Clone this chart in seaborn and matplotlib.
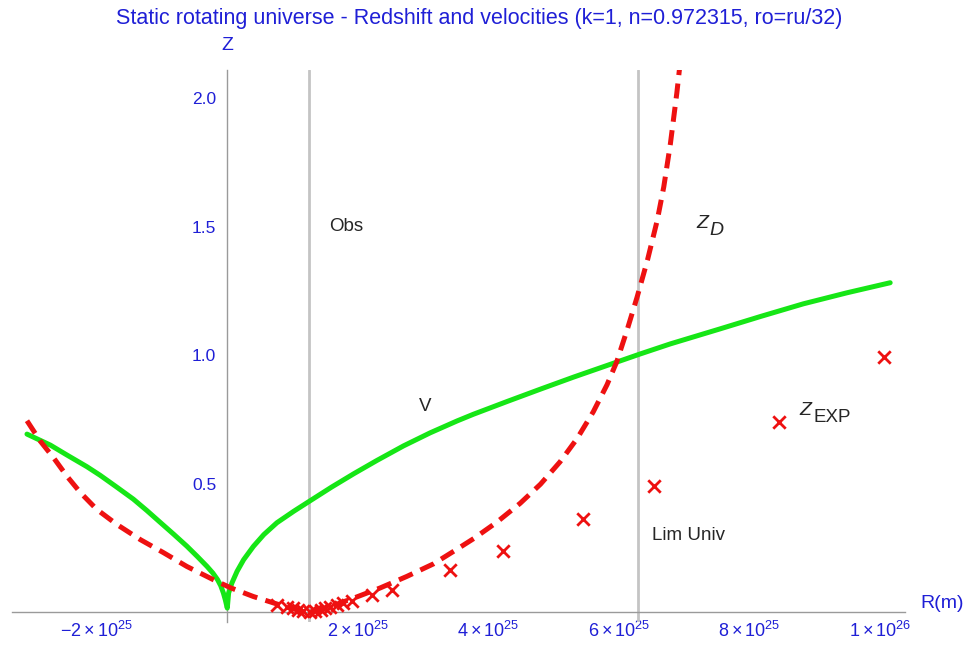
import matplotlib
matplotlib.use("Agg")
import matplotlib.pyplot as plt
import matplotlib.transforms as mtransforms
from matplotlib.ticker import FixedLocator, MultipleLocator
import pandas as pd
import seaborn as sns

# distances in units of 1e25 m
r_zd = [-3.07, -2.87, -2.66, -2.46, -2.25, -2.00, -1.69, -1.33, -0.98, -0.62,
        -0.21, 0.05, 0.40, 0.76, 1.00, 1.26, 1.58, 1.94, 2.34, 2.75, 3.16,
        3.52, 3.78, 4.13, 4.49, 4.80, 5.10, 5.36, 5.61, 5.82, 5.97, 6.13,
        6.28, 6.44, 6.59, 6.69, 6.79, 6.89, 6.93]
z_d = [0.745, 0.667, 0.600, 0.530, 0.465, 0.400, 0.341, 0.282, 0.232, 0.178,
       0.126, 0.095, 0.061, 0.032, 0.014, 0.000, 0.022, 0.055, 0.094, 0.139,
       0.188, 0.245, 0.287, 0.350, 0.424, 0.498, 0.585, 0.675, 0.780, 0.885,
       0.975, 1.100, 1.225, 1.370, 1.525, 1.655, 1.820, 2.020, 2.112]

r_v = [-3.07, -2.71, -2.46, -2.15, -1.95, -1.69, -1.44, -1.23, -1.03, -0.82,
       -0.62, -0.46, -0.31, -0.22, -0.15, -0.10, -0.06, -0.03, 0.00, 0.02,
       0.07, 0.15, 0.25, 0.40, 0.56, 0.76, 1.02, 1.26, 1.60, 1.94, 2.29, 2.70,
       3.11, 3.52, 3.77, 4.29, 4.80, 5.31, 5.82, 6.33, 6.79, 7.56, 8.19, 8.83,
       9.50, 10.16]
v = [0.693, 0.650, 0.612, 0.566, 0.533, 0.486, 0.440, 0.395, 0.350, 0.303,
     0.257, 0.217, 0.178, 0.152, 0.127, 0.103, 0.075, 0.048, 0.016, 0.074,
     0.113, 0.159, 0.204, 0.256, 0.302, 0.348, 0.393, 0.432, 0.487, 0.539,
     0.590, 0.647, 0.698, 0.744, 0.770, 0.820, 0.868, 0.915, 0.960, 1.005,
     1.044, 1.103, 1.152, 1.200, 1.243, 1.282]

r_exp = [0.76, 0.91, 1.01, 1.09, 1.16, 1.27, 1.35, 1.43, 1.50, 1.58, 1.68,
         1.78, 1.91, 2.22, 2.52, 3.41, 4.22, 5.45, 6.54, 8.46, 10.07]
z_exp = [0.029, 0.022, 0.016, 0.009, 0.004, 0.000, 0.004, 0.009, 0.016, 0.022,
         0.029, 0.035, 0.042, 0.068, 0.087, 0.163, 0.239, 0.363, 0.491, 0.741,
         0.992]

r_obs = 1.26
r_lim = 6.30

xtick_vals = [-2e25, 2e25, 4e25, 6e25, 8e25, 1e26]
xtick_labels = [r"$-2\times10^{25}$", r"$2\times10^{25}$", r"$4\times10^{25}$",
                r"$6\times10^{25}$", r"$8\times10^{25}$", r"$1\times10^{26}$"]
ytick_vals = [0.5, 1.0, 1.5, 2.0]
ytick_labels = ["0.5", "1.0", "1.5", "2.0"]

title = "Static rotating universe - Redshift and velocities (k=1, n=0.972315, ro=ru/32)"

df_zd = pd.DataFrame({"R": [r * 1e25 for r in r_zd], "Z": z_d})
df_v = pd.DataFrame({"R": [r * 1e25 for r in r_v], "Z": v})
df_exp = pd.DataFrame({"R": [r * 1e25 for r in r_exp], "Z": z_exp})

sns.set_style("white")
plt.rcParams['font.family'] = ['Liberation Sans', 'DejaVu Sans']
plt.rcParams['mathtext.fontset'] = 'custom'
plt.rcParams['mathtext.rm'] = 'Liberation Sans'
plt.rcParams['mathtext.it'] = 'Liberation Sans:italic'

blue = "#1f1fd6"
axis_gray = "#9a9a9a"

fig = plt.figure(figsize=(9.73, 6.47), dpi=100)
ax = fig.add_axes([0.0123, 0.0379, 0.918, 0.854])

# Obs / Lim Univ guide lines
ax.axvline(r_obs * 1e25, color="#c4c4c4", lw=2.0, zorder=1)
ax.axvline(r_lim * 1e25, color="#c4c4c4", lw=2.0, zorder=1)

sns.lineplot(data=df_v, x="R", y="Z", ax=ax, sort=False, color="#16e616",
             lw=3.6, zorder=3)
sns.lineplot(data=df_zd, x="R", y="Z", ax=ax, sort=False, color="#ee1111",
             lw=3.6, zorder=4)
ax.lines[-1].set_dashes((3.0, 1.7))
sns.scatterplot(data=df_exp, x="R", y="Z", ax=ax, marker="x", color="#ee1111",
                s=80, linewidth=2.0, zorder=5)

ax.set_xlim(-3.30e25, 10.39e25)
ax.set_ylim(-0.04, 2.11)

for side in ["top", "right"]:
    ax.spines[side].set_visible(False)
ax.spines["left"].set_position(("data", 0))
ax.spines["bottom"].set_position(("data", 0))
for side in ["left", "bottom"]:
    ax.spines[side].set_color(axis_gray)
    ax.spines[side].set_linewidth(1.0)

ax.xaxis.set_major_locator(FixedLocator(xtick_vals))
ax.set_xticklabels(xtick_labels)
ax.xaxis.set_minor_locator(MultipleLocator(0.5e25))
ax.yaxis.set_major_locator(FixedLocator(ytick_vals))
ax.set_yticklabels(ytick_labels)
ax.yaxis.set_minor_locator(MultipleLocator(0.1))
ax.tick_params(which="both", direction="in", colors=axis_gray,
               labelcolor=blue)
ax.tick_params(axis="x", labelsize=13, pad=6)
ax.tick_params(axis="y", labelsize=12.5, pad=8)
ax.tick_params(which="major", length=5, width=0.8)
ax.tick_params(which="minor", length=3, width=0.6)
ax.set_xlabel("")
ax.set_ylabel("")

ax.text(1.56e25, 1.50, "Obs", fontsize=13.5, va="center", ha="left")
ax.text(7.19e25, 1.511, r"$Z$", fontsize=14, va="center", ha="left")
ax.text(7.38e25, 1.484, r"$D$", fontsize=14, va="center", ha="left")
ax.text(3.03e25, 0.80, "V", fontsize=13.5, va="center", ha="center")
ax.text(6.51e25, 0.30, "Lim Univ", fontsize=13.5, va="center", ha="left")
ax.text(8.76e25, 0.784, r"$Z$", fontsize=14, va="center", ha="left")
ax.text(8.99e25, 0.757, "EXP", fontsize=13.5, va="center", ha="left")

trans = mtransforms.blended_transform_factory(ax.transData, ax.transAxes)
ax.text(0.0, 1.045, "Z", transform=trans, color=blue, fontsize=14,
        ha="center", va="center")
fig.text(0.968, 0.068, "R(m)", color=blue, fontsize=14, ha="center", va="center")
fig.text(0.492, 0.972, title, color=blue, fontsize=15.5, ha="center", va="center")

fig.savefig("out.png", dpi=100)
